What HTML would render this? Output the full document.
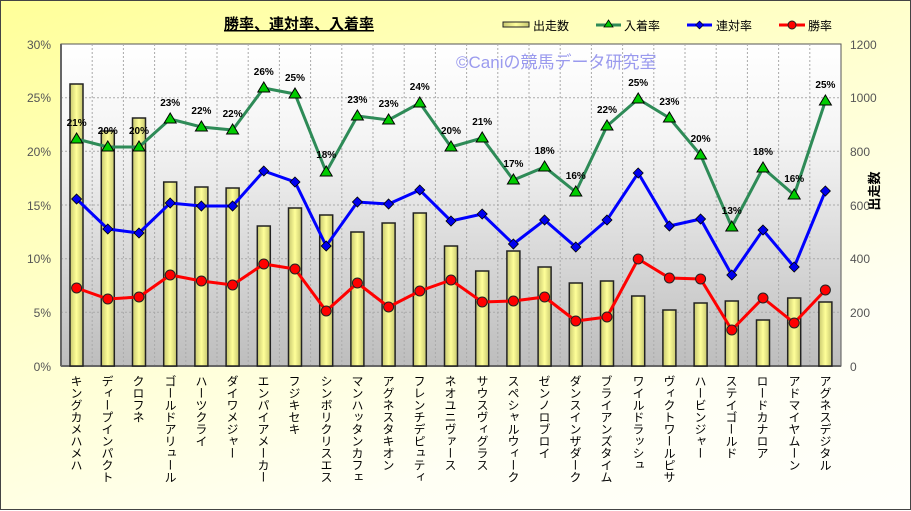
<!DOCTYPE html>
<html><head><meta charset="utf-8"><style>
body{margin:0;width:911px;height:510px;overflow:hidden;font-family:"Liberation Sans","Noto Sans CJK JP",sans-serif;}
.wrap{position:absolute;left:0;top:0;width:909px;height:508px;border:1px solid #444;background:linear-gradient(160deg,#ffff99 0%,#ffffcc 40%,#fffff4 75%,#fffffa 100%);}
.nm{position:absolute;top:374px;writing-mode:vertical-rl;font-size:12px;line-height:13px;color:#000;font-family:"Noto Sans CJK JP",sans-serif;}
</style></head><body><div class="wrap">
<svg width="911" height="510" style="position:absolute;left:0;top:0">
<defs><linearGradient id="pg" x1="0" y1="0" x2="0" y2="1"><stop offset="0" stop-color="#ffffff"/><stop offset="0.3" stop-color="#f4f4f4"/><stop offset="1" stop-color="#bdbdbd"/></linearGradient>
<linearGradient id="bg" x1="0" y1="0" x2="1" y2="0"><stop offset="0" stop-color="#c8c870"/><stop offset="0.5" stop-color="#ffff99"/><stop offset="1" stop-color="#c8c870"/></linearGradient></defs>
<rect x="60" y="43" width="780" height="322" fill="url(#pg)" stroke="#555" stroke-width="1"/>
<g stroke="#aaa" stroke-dasharray="2,2" stroke-width="1">
<line x1="60" y1="96.7" x2="840" y2="96.7"/><line x1="60" y1="150.3" x2="840" y2="150.3"/><line x1="60" y1="204" x2="840" y2="204"/><line x1="60" y1="257.7" x2="840" y2="257.7"/><line x1="60" y1="311.3" x2="840" y2="311.3"/>
<line x1="91.2" y1="43" x2="91.2" y2="365"/><line x1="122.4" y1="43" x2="122.4" y2="365"/><line x1="153.6" y1="43" x2="153.6" y2="365"/><line x1="184.8" y1="43" x2="184.8" y2="365"/><line x1="216" y1="43" x2="216" y2="365"/><line x1="247.2" y1="43" x2="247.2" y2="365"/><line x1="278.4" y1="43" x2="278.4" y2="365"/><line x1="309.6" y1="43" x2="309.6" y2="365"/><line x1="340.8" y1="43" x2="340.8" y2="365"/><line x1="372" y1="43" x2="372" y2="365"/><line x1="403.2" y1="43" x2="403.2" y2="365"/><line x1="434.4" y1="43" x2="434.4" y2="365"/><line x1="465.6" y1="43" x2="465.6" y2="365"/><line x1="496.8" y1="43" x2="496.8" y2="365"/><line x1="528" y1="43" x2="528" y2="365"/><line x1="559.2" y1="43" x2="559.2" y2="365"/><line x1="590.4" y1="43" x2="590.4" y2="365"/><line x1="621.6" y1="43" x2="621.6" y2="365"/><line x1="652.8" y1="43" x2="652.8" y2="365"/><line x1="684" y1="43" x2="684" y2="365"/><line x1="715.2" y1="43" x2="715.2" y2="365"/><line x1="746.4" y1="43" x2="746.4" y2="365"/><line x1="777.6" y1="43" x2="777.6" y2="365"/><line x1="808.8" y1="43" x2="808.8" y2="365"/>
</g>
<line x1="60" y1="43" x2="60" y2="365" stroke="#666" stroke-width="2"/><line x1="60" y1="365" x2="840" y2="365" stroke="#666" stroke-width="2"/>
<g fill="url(#bg)" stroke="#222" stroke-width="1.5">
<rect x="69" y="83" width="13" height="282"/><rect x="100.3" y="130" width="13" height="235"/><rect x="131.5" y="117" width="13" height="248"/><rect x="162.7" y="181" width="13" height="184"/><rect x="193.9" y="186" width="13" height="179"/><rect x="225.1" y="187" width="13" height="178"/><rect x="256.3" y="225" width="13" height="140"/><rect x="287.5" y="207" width="13" height="158"/><rect x="318.7" y="214" width="13" height="151"/><rect x="349.9" y="231" width="13" height="134"/><rect x="381.1" y="222" width="13" height="143"/><rect x="412.3" y="212" width="13" height="153"/><rect x="443.5" y="245" width="13" height="120"/><rect x="474.7" y="270" width="13" height="95"/><rect x="505.9" y="250" width="13" height="115"/><rect x="537.1" y="266" width="13" height="99"/><rect x="568.3" y="282" width="13" height="83"/><rect x="599.5" y="280" width="13" height="85"/><rect x="630.7" y="295" width="13" height="70"/><rect x="661.9" y="309" width="13" height="56"/><rect x="693.1" y="302" width="13" height="63"/><rect x="724.3" y="300" width="13" height="65"/><rect x="755.5" y="319" width="13" height="46"/><rect x="786.7" y="297" width="13" height="68"/><rect x="817.9" y="301" width="13" height="64"/>
</g>
<polyline fill="none" stroke="#2e8b57" stroke-width="3" points="75.6,138 106.8,146 138,146 169.2,118 200.4,126 231.6,129 262.8,87 294,93 325.2,171 356.4,115 387.6,119 418.8,102 450,146 481.2,137 512.4,179 543.6,166 574.8,191 606,125 637.2,98 668.4,117 699.6,154 730.8,226 762,167 793.2,194 824.4,100"/>
<polyline fill="none" stroke="#0000ff" stroke-width="3" points="75.6,198 106.8,228 138,232 169.2,202 200.4,205 231.6,205 262.8,170 294,181 325.2,245 356.4,201 387.6,203 418.8,189 450,220 481.2,213 512.4,243 543.6,219 574.8,246 606,219 637.2,172 668.4,225 699.6,218 730.8,274 762,229 793.2,266 824.4,190"/>
<polyline fill="none" stroke="#ff0000" stroke-width="3" points="75.6,287 106.8,298 138,296 169.2,274 200.4,280 231.6,284 262.8,263 294,268 325.2,310 356.4,282 387.6,306 418.8,290 450,279 481.2,301 512.4,300 543.6,296 574.8,320 606,316 637.2,258 668.4,277 699.6,278 730.8,329 762,297 793.2,322 824.4,289"/>
<g fill="#00cc00" stroke="#000" stroke-width="1">
<path d="M75.6,132l6,10h-12z"/><path d="M106.8,140l6,10h-12z"/><path d="M138,140l6,10h-12z"/><path d="M169.2,112l6,10h-12z"/><path d="M200.4,120l6,10h-12z"/><path d="M231.6,123l6,10h-12z"/><path d="M262.8,81l6,10h-12z"/><path d="M294,87l6,10h-12z"/><path d="M325.2,165l6,10h-12z"/><path d="M356.4,109l6,10h-12z"/><path d="M387.6,113l6,10h-12z"/><path d="M418.8,96l6,10h-12z"/><path d="M450,140l6,10h-12z"/><path d="M481.2,131l6,10h-12z"/><path d="M512.4,173l6,10h-12z"/><path d="M543.6,160l6,10h-12z"/><path d="M574.8,185l6,10h-12z"/><path d="M606,119l6,10h-12z"/><path d="M637.2,92l6,10h-12z"/><path d="M668.4,111l6,10h-12z"/><path d="M699.6,148l6,10h-12z"/><path d="M730.8,220l6,10h-12z"/><path d="M762,161l6,10h-12z"/><path d="M793.2,188l6,10h-12z"/><path d="M824.4,94l6,10h-12z"/>
</g>
<g fill="#0000ee" stroke="#000" stroke-width="0.8">
<path d="M75.6,193l5,5l-5,5l-5,-5z"/><path d="M106.8,223l5,5l-5,5l-5,-5z"/><path d="M138,227l5,5l-5,5l-5,-5z"/><path d="M169.2,197l5,5l-5,5l-5,-5z"/><path d="M200.4,200l5,5l-5,5l-5,-5z"/><path d="M231.6,200l5,5l-5,5l-5,-5z"/><path d="M262.8,165l5,5l-5,5l-5,-5z"/><path d="M294,176l5,5l-5,5l-5,-5z"/><path d="M325.2,240l5,5l-5,5l-5,-5z"/><path d="M356.4,196l5,5l-5,5l-5,-5z"/><path d="M387.6,198l5,5l-5,5l-5,-5z"/><path d="M418.8,184l5,5l-5,5l-5,-5z"/><path d="M450,215l5,5l-5,5l-5,-5z"/><path d="M481.2,208l5,5l-5,5l-5,-5z"/><path d="M512.4,238l5,5l-5,5l-5,-5z"/><path d="M543.6,214l5,5l-5,5l-5,-5z"/><path d="M574.8,241l5,5l-5,5l-5,-5z"/><path d="M606,214l5,5l-5,5l-5,-5z"/><path d="M637.2,167l5,5l-5,5l-5,-5z"/><path d="M668.4,220l5,5l-5,5l-5,-5z"/><path d="M699.6,213l5,5l-5,5l-5,-5z"/><path d="M730.8,269l5,5l-5,5l-5,-5z"/><path d="M762,224l5,5l-5,5l-5,-5z"/><path d="M793.2,261l5,5l-5,5l-5,-5z"/><path d="M824.4,185l5,5l-5,5l-5,-5z"/>
</g>
<g fill="#ff0000" stroke="#222" stroke-width="1">
<circle cx="75.6" cy="287" r="5"/><circle cx="106.8" cy="298" r="5"/><circle cx="138" cy="296" r="5"/><circle cx="169.2" cy="274" r="5"/><circle cx="200.4" cy="280" r="5"/><circle cx="231.6" cy="284" r="5"/><circle cx="262.8" cy="263" r="5"/><circle cx="294" cy="268" r="5"/><circle cx="325.2" cy="310" r="5"/><circle cx="356.4" cy="282" r="5"/><circle cx="387.6" cy="306" r="5"/><circle cx="418.8" cy="290" r="5"/><circle cx="450" cy="279" r="5"/><circle cx="481.2" cy="301" r="5"/><circle cx="512.4" cy="300" r="5"/><circle cx="543.6" cy="296" r="5"/><circle cx="574.8" cy="320" r="5"/><circle cx="606" cy="316" r="5"/><circle cx="637.2" cy="258" r="5"/><circle cx="668.4" cy="277" r="5"/><circle cx="699.6" cy="278" r="5"/><circle cx="730.8" cy="329" r="5"/><circle cx="762" cy="297" r="5"/><circle cx="793.2" cy="322" r="5"/><circle cx="824.4" cy="289" r="5"/>
</g>
<g font-size="10" font-weight="bold" text-anchor="middle" fill="#000">
<text x="75.6" y="125">21%</text><text x="106.8" y="133">20%</text><text x="138" y="133">20%</text><text x="169.2" y="105">23%</text><text x="200.4" y="113">22%</text><text x="231.6" y="116">22%</text><text x="262.8" y="74">26%</text><text x="294" y="80">25%</text><text x="325.2" y="157">18%</text><text x="356.4" y="102">23%</text><text x="387.6" y="106">23%</text><text x="418.8" y="89">24%</text><text x="450" y="133">20%</text><text x="481.2" y="124">21%</text><text x="512.4" y="166">17%</text><text x="543.6" y="153">18%</text><text x="574.8" y="178">16%</text><text x="606" y="112">22%</text><text x="637.2" y="85">25%</text><text x="668.4" y="104">23%</text><text x="699.6" y="141">20%</text><text x="730.8" y="213">13%</text><text x="762" y="154">18%</text><text x="793.2" y="181">16%</text><text x="824.4" y="87">25%</text>
</g>
<g font-size="12" fill="#555" text-anchor="end">
<text x="50" y="48">30%</text><text x="50" y="101">25%</text><text x="50" y="155">20%</text><text x="50" y="209">15%</text><text x="50" y="262">10%</text><text x="50" y="316">5%</text><text x="50" y="370">0%</text>
</g>
<g font-size="12" fill="#555">
<text x="849" y="48">1200</text><text x="849" y="101">1000</text><text x="849" y="155">800</text><text x="849" y="209">600</text><text x="849" y="262">400</text><text x="849" y="316">200</text><text x="849" y="370">0</text>
</g>
<text x="298" y="28" font-size="15" font-weight="bold" text-anchor="middle" text-decoration="underline" fill="#000" font-family="Noto Sans CJK JP,sans-serif">勝率、連対率、入着率</text>
<text x="455" y="67" font-size="17" fill="#9a9aee" font-family="Liberation Sans,Noto Sans CJK JP,sans-serif">©Caniの競馬データ研究室</text>
<g font-size="12" fill="#000" font-family="Noto Sans CJK JP,sans-serif">
<rect x="502" y="21" width="26" height="5" fill="url(#bg)" stroke="#222"/><text x="532" y="29">出走数</text>
<line x1="595" y1="24" x2="620" y2="24" stroke="#2e8b57" stroke-width="3"/><path d="M607.5,19l4.5,7h-9z" fill="#00cc00" stroke="#000" stroke-width="0.8"/><text x="623" y="29">入着率</text>
<line x1="686" y1="24" x2="711" y2="24" stroke="#0000ff" stroke-width="3"/><path d="M698.5,20l4,4l-4,4l-4,-4z" fill="#0000ee" stroke="#000" stroke-width="0.6"/><text x="715" y="29">連対率</text>
<line x1="778" y1="24" x2="804" y2="24" stroke="#ff0000" stroke-width="3"/><circle cx="791" cy="24" r="4" fill="#ff0000" stroke="#222"/><text x="807" y="29">勝率</text>
</g>
<text x="878" y="190" font-size="13" fill="#000" font-family="Noto Sans CJK JP,sans-serif" transform="rotate(-90 878 190)" text-anchor="middle" font-weight="bold">出走数</text>
</svg>
<div class="nm" style="left:69px">キングカメハメハ</div><div class="nm" style="left:100px">ディープインパクト</div><div class="nm" style="left:131px">クロフネ</div><div class="nm" style="left:163px">ゴールドアリュール</div><div class="nm" style="left:194px">ハーツクライ</div><div class="nm" style="left:225px">ダイワメジャー</div><div class="nm" style="left:256px">エンパイアメーカー</div><div class="nm" style="left:287px">フジキセキ</div><div class="nm" style="left:319px">シンボリクリスエス</div><div class="nm" style="left:350px">マンハッタンカフェ</div><div class="nm" style="left:381px">アグネスタキオン</div><div class="nm" style="left:412px">フレンチデピュティ</div><div class="nm" style="left:443px">ネオユニヴァース</div><div class="nm" style="left:475px">サウスヴィグラス</div><div class="nm" style="left:506px">スペシャルウィーク</div><div class="nm" style="left:537px">ゼンノロブロイ</div><div class="nm" style="left:568px">ダンスインザダーク</div><div class="nm" style="left:599px">ブライアンズタイム</div><div class="nm" style="left:631px">ワイルドラッシュ</div><div class="nm" style="left:662px">ヴィクトワールピサ</div><div class="nm" style="left:693px">ハービンジャー</div><div class="nm" style="left:724px">ステイゴールド</div><div class="nm" style="left:755px">ロードカナロア</div><div class="nm" style="left:787px">アドマイヤムーン</div><div class="nm" style="left:818px">アグネスデジタル</div>
</div></body></html>
